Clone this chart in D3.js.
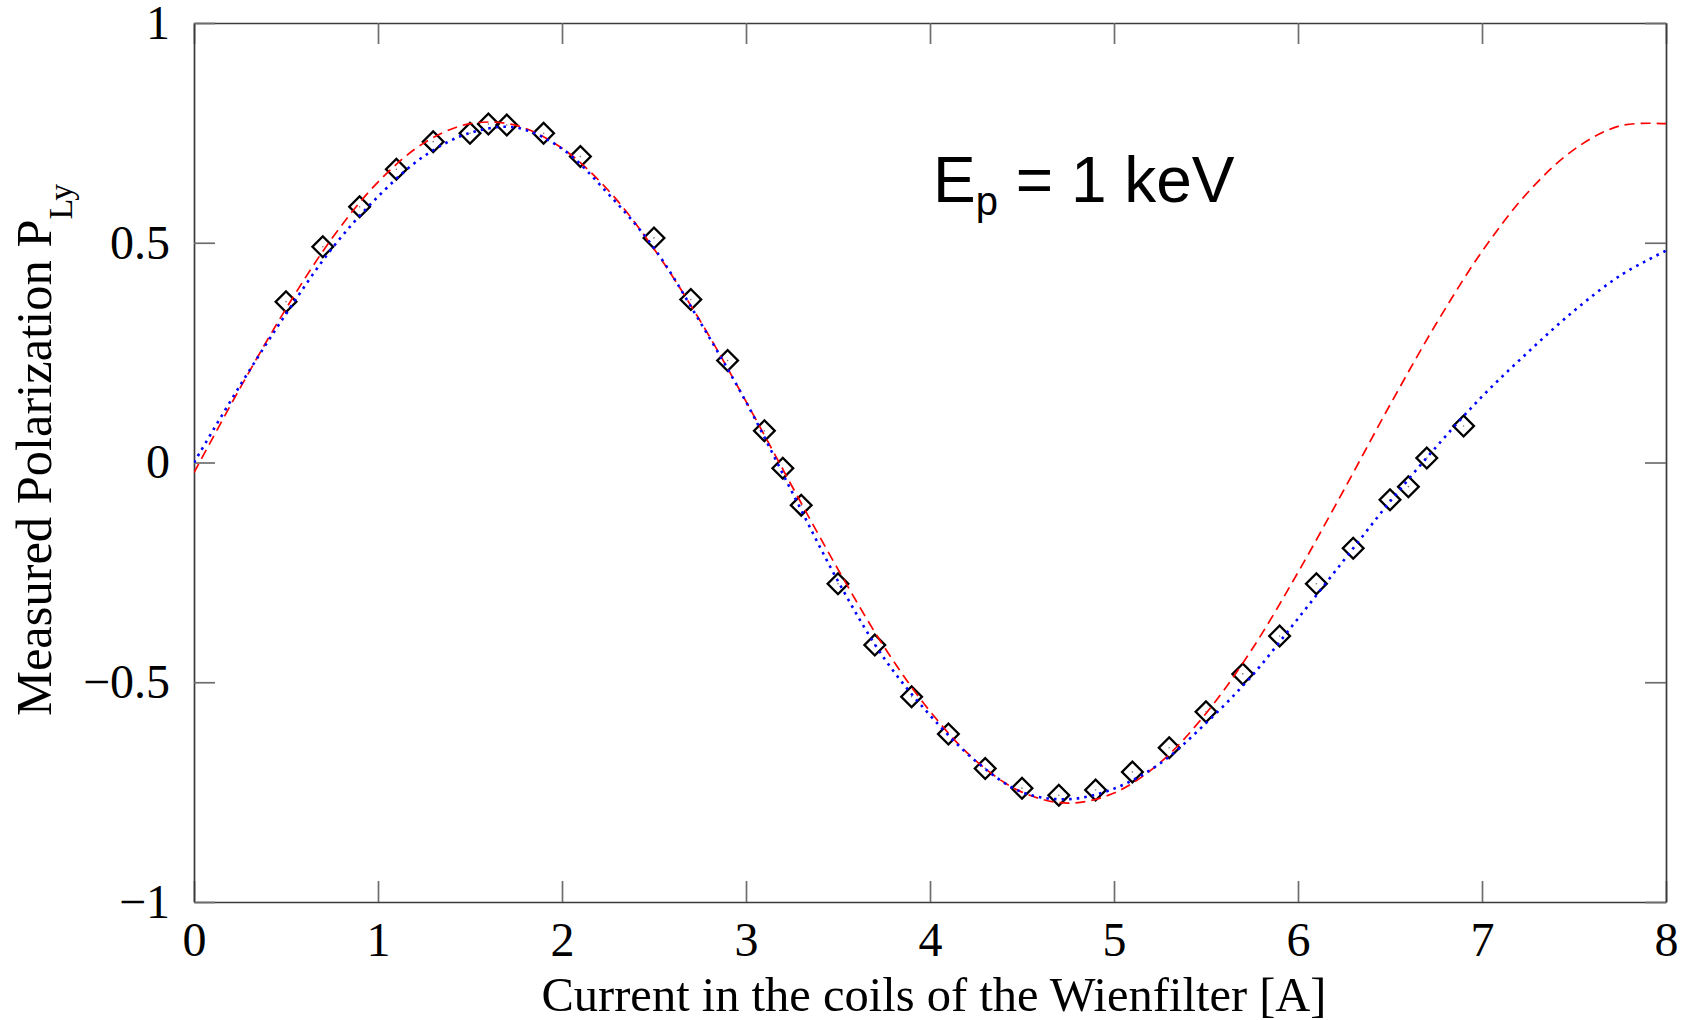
<!DOCTYPE html>
<html>
<head>
<meta charset="utf-8">
<script src="https://cdn.jsdelivr.net/npm/d3@7"></script>
<style>
  html, body { margin: 0; padding: 0; background: #fff; }
  svg { display: block; }
</style>
</head>
<body>
<svg id="chart" width="1688" height="1020"></svg>
<script>
// Measured polarization vs. Wien filter coil current
const measCurrent = [0.5, 0.7, 0.9, 1.1, 1.3, 1.5, 1.6, 1.7, 1.9, 2.1, 2.5, 2.7, 2.9, 3.1, 3.2, 3.3,
  3.5, 3.7, 3.9, 4.1, 4.3, 4.5, 4.7, 4.9, 5.1, 5.3, 5.5, 5.7, 5.9, 6.1, 6.3, 6.5, 6.6, 6.7, 6.9];
const measPol = [0.366, 0.491, 0.582, 0.667, 0.730, 0.749, 0.770, 0.768, 0.749, 0.696, 0.511, 0.371,
  0.232, 0.072, -0.013, -0.097, -0.276, -0.415, -0.533, -0.618, -0.696, -0.741, -0.757, -0.745,
  -0.704, -0.649, -0.567, -0.481, -0.395, -0.276, -0.195, -0.085, -0.055, 0.010, 0.083];

// Fit curves sampled on a common current grid
const fitCurrent = [0, 0.25, 0.5, 0.75, 1, 1.25, 1.5, 1.75, 2, 2.25, 2.5, 2.75, 3, 3.25, 3.5, 3.75,
  4, 4.25, 4.5, 4.75, 5, 5.25, 5.5, 5.75, 6, 6.25, 6.5, 6.75, 7, 7.25, 7.5, 7.75, 8];
const fitRed = [-0.023, 0.169, 0.350, 0.510, 0.638, 0.727, 0.771, 0.767, 0.715, 0.620, 0.486, 0.323,
  0.139, -0.054, -0.243, -0.419, -0.566, -0.679, -0.750, -0.775, -0.752, -0.683, -0.571, -0.425,
  -0.250, -0.062, 0.131, 0.315, 0.480, 0.615, 0.712, 0.766, 0.771];
const fitBlue = [0, 0.175, 0.338, 0.487, 0.605, 0.697, 0.750, 0.762, 0.714, 0.612, 0.488, 0.320,
  0.138, -0.067, -0.270, -0.445, -0.575, -0.680, -0.750, -0.766, -0.742, -0.685, -0.593, -0.485,
  -0.355, -0.222, -0.089, 0.035, 0.150, 0.251, 0.345, 0.425, 0.482];

const xTicks = [0, 1, 2, 3, 4, 5, 6, 7, 8];
const xTickLabels = ["0", "1", "2", "3", "4", "5", "6", "7", "8"];
const yTicks = [-1, -0.5, 0, 0.5, 1];
const yTickLabels = ["\u22121", "\u22120.5", "0", "0.5", "1"];

const svg = d3.select("#chart");
const L = 194, R = 1666, T = 23, B = 902;

const x = d3.scaleLinear().domain([0, 8]).range([L, R]);
const y = d3.scaleLinear().domain([-1, 1]).range([B, T]);

const serif = "'Liberation Serif', 'Times New Roman', Times, serif";
const sans = "'Liberation Sans', Arial, Helvetica, sans-serif";
const tickLen = 21;

function styleAxis(g) {
  g.select(".domain").attr("stroke", "#3a3a3a").attr("stroke-width", 1.7);
  g.selectAll(".tick line").attr("stroke", "#6e6e6e").attr("stroke-width", 1.7);
  g.selectAll(".tick text").attr("font-family", serif).attr("font-size", 48).attr("fill", "#000");
}

// bottom axis with labels
svg.append("g").attr("transform", `translate(0,${B})`)
  .call(d3.axisBottom(x).tickValues(xTicks).tickFormat((d, i) => xTickLabels[i])
    .tickSizeInner(-tickLen).tickSizeOuter(0).tickPadding(20))
  .call(styleAxis);
// top axis, ticks only
svg.append("g").attr("transform", `translate(0,${T})`)
  .call(d3.axisTop(x).tickValues(xTicks).tickFormat("")
    .tickSizeInner(-tickLen).tickSizeOuter(0))
  .call(styleAxis);
// left axis with labels
svg.append("g").attr("transform", `translate(${L},0)`)
  .call(d3.axisLeft(y).tickValues(yTicks).tickFormat((d, i) => yTickLabels[i])
    .tickSizeInner(-tickLen).tickSizeOuter(0).tickPadding(24))
  .call(styleAxis);
// right axis, ticks only
svg.append("g").attr("transform", `translate(${R},0)`)
  .call(d3.axisRight(y).tickValues(yTicks).tickFormat("")
    .tickSizeInner(-tickLen).tickSizeOuter(0))
  .call(styleAxis);

// clip for curves
svg.append("defs").append("clipPath").attr("id", "plotClip")
  .append("rect").attr("x", L).attr("y", T).attr("width", R - L).attr("height", B - T);

// measured points: open diamonds
const pts = measCurrent.map((c, i) => ({ c, p: measPol[i] }));
const diamond = d3.symbol().type(d3.symbolSquare).size(215);
const ptG = svg.append("g");
ptG.selectAll("path").data(pts).join("path")
  .attr("d", diamond)
  .attr("transform", d => `translate(${x(d.c)},${y(d.p)}) rotate(45)`)
  .attr("fill", "none").attr("stroke", "#000").attr("stroke-width", 2.3);
ptG.selectAll("circle").data(pts).join("circle")
  .attr("cx", d => x(d.c)).attr("cy", d => y(d.p)).attr("r", 0.8).attr("fill", "#777");

const line = d3.line().x(d => x(d[0])).y(d => y(d[1])).curve(d3.curveCatmullRom.alpha(0.5));
const curveG = svg.append("g").attr("clip-path", "url(#plotClip)");

curveG.append("path")
  .datum(fitCurrent.map((c, i) => [c, fitRed[i]]))
  .attr("d", line).attr("fill", "none")
  .attr("stroke", "#ff0000").attr("stroke-width", 1.7).attr("stroke-dasharray", "10,6");

curveG.append("path")
  .datum(fitCurrent.map((c, i) => [c, fitBlue[i]]))
  .attr("d", line).attr("fill", "none")
  .attr("stroke", "#0000ff").attr("stroke-width", 2.6).attr("stroke-dasharray", "2.6,5");

// axis titles
svg.append("text")
  .attr("x", (L + R) / 2 + 4).attr("y", 1011)
  .attr("text-anchor", "middle")
  .attr("font-family", serif).attr("font-size", 48.5).attr("fill", "#000")
  .text("Current in the coils of the Wienfilter [A]");

const yTitle = svg.append("text")
  .attr("transform", "translate(51,716) rotate(-90)")
  .attr("text-anchor", "start")
  .attr("font-family", serif).attr("font-size", 50.5).attr("fill", "#000");
yTitle.append("tspan").text("Measured Polarization P");
yTitle.append("tspan").attr("font-size", 34).attr("dy", 21).text("Ly");

// energy annotation
const ann = svg.append("text")
  .attr("x", 933).attr("y", 202)
  .attr("font-family", sans).attr("font-size", 64).attr("fill", "#000");
ann.append("tspan").text("E");
ann.append("tspan").attr("font-size", 40).attr("dy", 13).text("p");
ann.append("tspan").attr("dy", -13).text(" = 1 keV");
</script>
</body>
</html>
